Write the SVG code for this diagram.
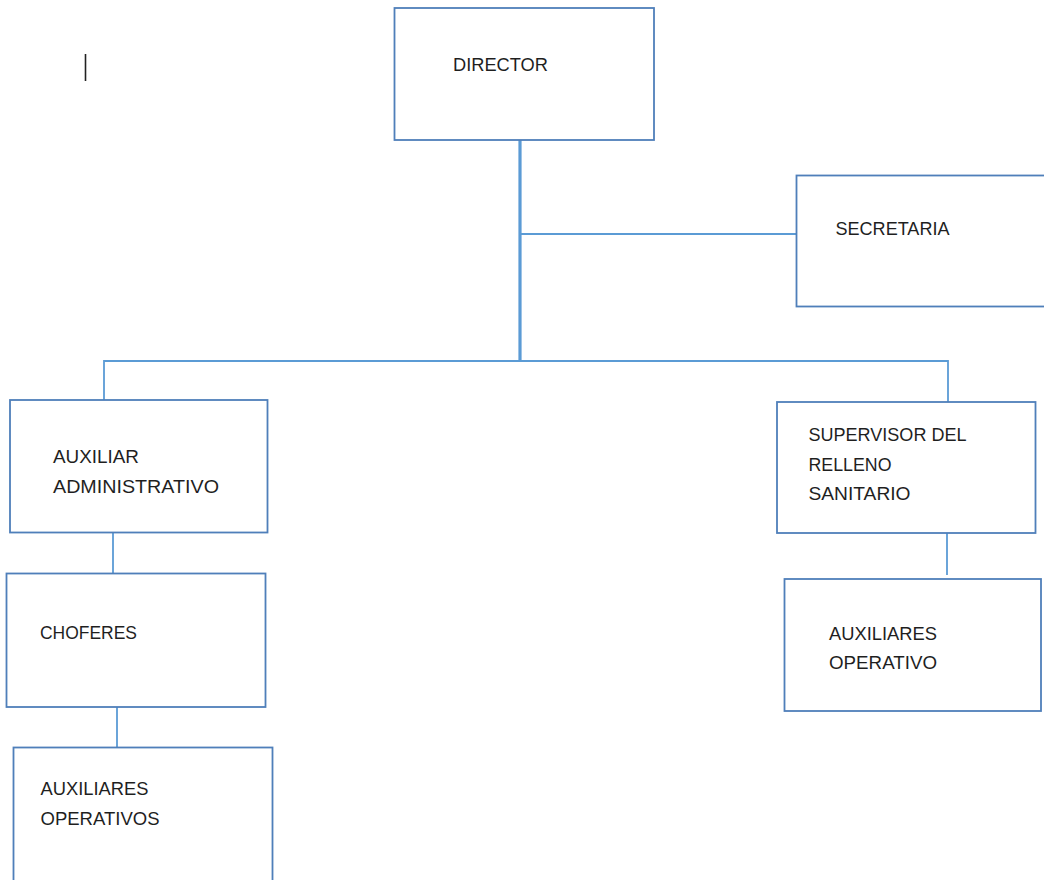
<svg xmlns="http://www.w3.org/2000/svg" width="1044" height="880" viewBox="0 0 1044 880">
<style>
.box{fill:#ffffff;stroke:#4F7FBA;stroke-width:1.8}
.conn{stroke:#5B9BD5;stroke-width:1.8;fill:none}
.thick{stroke:#5B9BD5;stroke-width:3.2;fill:none}
.t{font-family:"Liberation Sans",Arial,sans-serif;font-size:19px;fill:#1f1f1f}
</style>
<rect width="1044" height="880" fill="#ffffff"/>
<line x1="85.5" y1="54" x2="85.5" y2="81" stroke="#222" stroke-width="1.6"/>
<g id="connectors">
<line class="thick" x1="520" y1="140" x2="520" y2="361"/>
<line class="conn" x1="520" y1="234" x2="796" y2="234"/>
<polyline class="conn" points="104,400 104,361 948,361 948,402"/>
<line class="conn" x1="113" y1="533" x2="113" y2="573"/>
<line class="conn" x1="117" y1="707" x2="117" y2="747"/>
<line class="conn" x1="947" y1="533" x2="947" y2="575"/>
</g>
<g id="director">
<rect class="box" x="394.5" y="8" width="259.5" height="132"/>
<text class="t" x="453" y="71" textLength="95" lengthAdjust="spacingAndGlyphs">DIRECTOR</text>
</g>
<g id="secretaria">
<rect class="box" x="796.5" y="175.5" width="270" height="131"/>
<text class="t" x="835.5" y="235" textLength="114" lengthAdjust="spacingAndGlyphs">SECRETARIA</text>
</g>
<g id="auxiliar-administrativo">
<rect class="box" x="10" y="400" width="257.5" height="132.5"/>
<text class="t" x="53" y="463" textLength="86" lengthAdjust="spacingAndGlyphs">AUXILIAR</text>
<text class="t" x="53" y="493" textLength="166" lengthAdjust="spacingAndGlyphs">ADMINISTRATIVO</text>
</g>
<g id="choferes">
<rect class="box" x="6.5" y="573.5" width="259" height="133.5"/>
<text class="t" x="40" y="639" textLength="97" lengthAdjust="spacingAndGlyphs">CHOFERES</text>
</g>
<g id="auxiliares-operativos">
<rect class="box" x="13.5" y="747.5" width="259" height="150"/>
<text class="t" x="40.5" y="795" textLength="108" lengthAdjust="spacingAndGlyphs">AUXILIARES</text>
<text class="t" x="40.5" y="825" textLength="119" lengthAdjust="spacingAndGlyphs">OPERATIVOS</text>
</g>
<g id="supervisor">
<rect class="box" x="777" y="402" width="258.5" height="131"/>
<text class="t" x="808.5" y="441" textLength="158" lengthAdjust="spacingAndGlyphs">SUPERVISOR DEL</text>
<text class="t" x="808.5" y="471" textLength="83" lengthAdjust="spacingAndGlyphs">RELLENO</text>
<text class="t" x="808.5" y="500" textLength="102" lengthAdjust="spacingAndGlyphs">SANITARIO</text>
</g>
<g id="auxiliares-operativo">
<rect class="box" x="784.5" y="579" width="256.5" height="132"/>
<text class="t" x="829" y="640" textLength="108" lengthAdjust="spacingAndGlyphs">AUXILIARES</text>
<text class="t" x="829" y="669" textLength="108" lengthAdjust="spacingAndGlyphs">OPERATIVO</text>
</g>
</svg>
